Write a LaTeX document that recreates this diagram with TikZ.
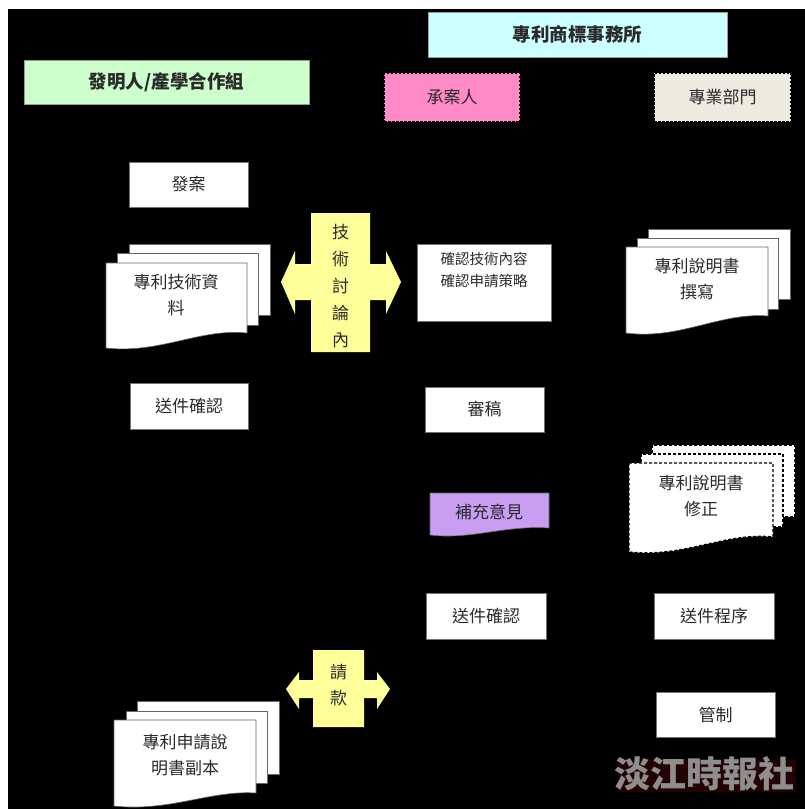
\documentclass[tikz,border=0pt]{standalone}
\usepackage{fontspec}
\newfontfamily\cjk{Noto Sans CJK TC}
\definecolor{hdrcyan}{HTML}{CCFFFF}
\definecolor{hdrgreen}{HTML}{CCFFCC}
\definecolor{rolepink}{HTML}{FF8AC8}
\definecolor{rolebeige}{HTML}{EDEBE0}
\definecolor{arrowyellow}{HTML}{FFFF99}
\definecolor{notepurple}{HTML}{C99DF2}
\definecolor{inktext}{HTML}{2A2A2A}
\definecolor{wmgray}{HTML}{8E8E8E}
\definecolor{wmred}{HTML}{3A0404}
\tikzset{
  lbl/.style={text=inktext, font=\cjk\fontsize{17}{26}\selectfont, align=center, inner sep=0pt},
  smalllbl/.style={text=inktext, font=\cjk\fontsize{14.5}{22}\selectfont, align=center, inner sep=0pt},
  hdr/.style={text=inktext, font=\cjk\bfseries\fontsize{18.5}{22}\selectfont, inner sep=0pt},
  plainbox/.style={draw=black!55, line width=0.6pt, fill=white, lbl, minimum width=119pt, minimum height=45pt},
  rolebox/.style={draw=black, line width=1.6pt, dash pattern=on 2.5pt off 1.5pt, lbl, minimum width=136pt, minimum height=49pt},
  docsheet/.style={draw=black!60, line width=0.6pt, fill=white},
  dashsheet/.style={draw=black, line width=1.4pt, dash pattern=on 3pt off 2pt, fill=white},
  crossarrow/.style={fill=arrowyellow, draw=none},
}
\begin{document}
\begin{tikzpicture}[x=1pt,y=-1pt]
\useasboundingbox (0,0) rectangle (805,809);
\fill[white] (0,0) rectangle (805,809);
\fill[black] (8,9) rectangle (805,809);

% headers
\node[hdr, fill=hdrcyan, draw=black!40, minimum width=299pt, minimum height=45pt] (office) at (577.5,34.5) {專利商標事務所};
\node[hdr, fill=hdrgreen, draw=black!40, minimum width=285pt, minimum height=44pt] (inventor) at (166.5,82) {發明人/產學合作組};
\node[rolebox, fill=rolepink] (handler) at (452,97.5) {承案人};
\node[rolebox, fill=rolebeige, minimum width=137pt] (dept) at (722.5,97.5) {專業部門};

% plain boxes
\node[plainbox] (dispatch) at (188.5,184.5) {發案};
\node[plainbox, minimum width=118pt, minimum height=46pt] (confirmL) at (189,406) {送件確認};
\node[plainbox, minimum width=134pt, minimum height=77pt] (verify) at (484,282.5) {};
\node[smalllbl, anchor=north] (verifytxt) at (484,252) {確認技術內容\\確認申請策略};
\node[plainbox] (review) at (484.5,409.5) {審稿};
\node[plainbox, minimum width=120pt, minimum height=46pt] (confirmM) at (486,616) {送件確認};
\node[plainbox, minimum width=120pt, minimum height=46pt] (procedure) at (714,616) {送件程序};
\node[plainbox] (control) at (715.5,714.5) {管制};

% multi-document: 專利技術資料
\draw[docsheet] (129,244) rectangle (270,315);
\draw[docsheet] (117,253) rectangle (258,325);
\draw[docsheet] (106,263) -- (247,263) -- (247,333)
  .. controls (200,328) and (160,354) .. (106,348) -- cycle;
\node[lbl] (techdata) at (176,295) {專利技術資\\料};

% multi-document: 專利說明書撰寫
\draw[docsheet] (648,229) rectangle (790,299);
\draw[docsheet] (637,238) rectangle (778,309);
\draw[docsheet] (626,247) -- (768,247) -- (768,316)
  .. controls (720,312) and (680,340) .. (626,333) -- cycle;
\node[lbl] (drafting) at (697,279) {專利說明書\\撰寫};

% multi-document dashed: 專利說明書修正
\draw[dashsheet] (652,445) rectangle (795,517);
\draw[dashsheet] (641,454) rectangle (783,527);
\draw[dashsheet] (629,463) -- (773,463) -- (773,537)
  .. controls (725,532) and (685,558) .. (629,552) -- cycle;
\node[lbl] (revision) at (701,496.5) {專利說明書\\修正};

% single document: 補充意見
\draw[draw=black!60, line width=0.6pt, fill=notepurple] (430,493) -- (549,493) -- (549,528)
  .. controls (505,525) and (470,540) .. (430,535) -- cycle;
\node[lbl] (comments) at (489,512) {補充意見};

% multi-document: 專利申請說明書副本
\draw[docsheet] (137,701) rectangle (279,774);
\draw[docsheet] (126,711) rectangle (267,783);
\draw[docsheet] (114,720) -- (256,720) -- (256,793)
  .. controls (210,790) and (170,812) .. (114,806) -- cycle;
\node[lbl] (copy) at (185,755) {專利申請說\\明書副本};

% cross arrow: 技術討論內
\fill[crossarrow] (311,213) -- (370,213) -- (370,264) -- (386,264) -- (386,251)
  -- (401,282) -- (386,314) -- (386,300) -- (370,300) -- (370,352) -- (311,352)
  -- (311,300) -- (295,300) -- (295,314) -- (281,282) -- (295,251) -- (295,264)
  -- (311,264) -- cycle;
\node[lbl] (discuss1) at (340.5,232) {技};
\node[lbl] (discuss2) at (340.5,259) {術};
\node[lbl] (discuss3) at (340.5,286) {討};
\node[lbl] (discuss4) at (340.5,313) {論};
\node[lbl] (discuss5) at (340.5,340) {內};

% cross arrow: 請款
\fill[crossarrow] (313,650) -- (364,650) -- (364,680) -- (377,680) -- (377,672)
  -- (390,689) -- (377,709) -- (377,698) -- (364,698) -- (364,727) -- (313,727)
  -- (313,698) -- (299,698) -- (299,709) -- (286,689) -- (299,672) -- (299,680)
  -- (313,680) -- cycle;
\node[lbl] (bill1) at (338.5,672) {請};
\node[lbl] (bill2) at (338.5,698) {款};

% watermark: faint dark red glow behind the gray text
\fill[wmred, opacity=0.6] (618,760) rectangle (796,792);
\node[text=wmgray, font=\cjk\bfseries\fontsize{36}{40}\selectfont, inner sep=0pt] (wm) at (704,774) {淡江時報社};
\end{tikzpicture}
\end{document}
